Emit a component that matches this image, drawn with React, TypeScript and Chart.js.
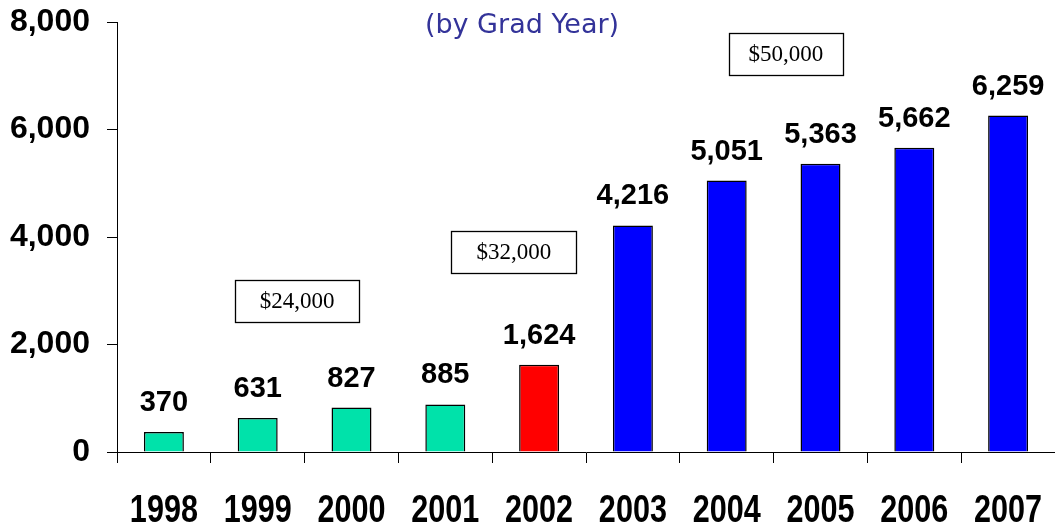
import React, { useEffect, useRef } from "react";
import { Chart, registerables } from "chart.js";

Chart.register(...registerables);

const categories = ["1998", "1999", "2000", "2001", "2002", "2003", "2004", "2005", "2006", "2007"];
const recipients = [370, 631, 827, 885, 1624, 4216, 5051, 5363, 5662, 6259];
const yTickValues = [0, 2000, 4000, 6000, 8000];
const subtitleText = "(by Grad Year)";
const annotationLabels = ["$24,000", "$32,000", "$50,000"];
const annotationCategory = [1.42, 3.73, 6.63];
const annotationValue = [2810, 3725, 7405];

const TEAL = "#00E2AA";
const RED = "#FF0000";
const BLUE = "#0000FF";
const barColors = [TEAL, TEAL, TEAL, TEAL, RED, BLUE, BLUE, BLUE, BLUE, BLUE];
const annotationBoxWidths = [124, 125, 114];

const SANS = "'Liberation Sans', Arial, sans-serif";

const overlayPlugin = {
  id: "overlay",
  afterDatasetsDraw(chart: any) {
    const ctx = chart.ctx;
    const meta = chart.getDatasetMeta(0);
    const xs = chart.scales.x;
    const ys = chart.scales.y;
    ctx.save();
    // value labels
    ctx.fillStyle = "#000";
    ctx.font = `bold 29px ${SANS}`;
    ctx.textAlign = "center";
    ctx.textBaseline = "alphabetic";
    meta.data.forEach((bar: any, i: number) => {
      const v = recipients[i];
      ctx.fillText(v.toLocaleString("en-US"), bar.x, bar.y - 21);
    });
    // category labels (condensed)
    ctx.font = `bold 38px ${SANS}`;
    categories.forEach((c, i) => {
      const x = xs.getPixelForTick(i);
      ctx.save();
      ctx.translate(x, xs.bottom - 7);
      ctx.scale(0.805, 1);
      ctx.fillText(c, 0, 0);
      ctx.restore();
    });
    // annotation boxes
    ctx.font = `23px 'Liberation Serif', 'Times New Roman', serif`;
    ctx.textBaseline = "middle";
    annotationLabels.forEach((label, i) => {
      const cx = xs.getPixelForValue(annotationCategory[i]);
      const cy = ys.getPixelForValue(annotationValue[i]);
      const w = annotationBoxWidths[i];
      const h = 42;
      ctx.fillStyle = "#fff";
      ctx.fillRect(cx - w / 2, cy - h / 2, w, h);
      ctx.strokeStyle = "#000";
      ctx.lineWidth = 1.3;
      ctx.strokeRect(Math.round(cx - w / 2) + 0.5, Math.round(cy - h / 2) + 0.5, w, h);
      ctx.fillStyle = "#000";
      ctx.fillText(label, cx, cy + 1);
    });
    // subtitle
    ctx.fillStyle = "#333399";
    ctx.font = `27px 'DejaVu Sans', Verdana, sans-serif`;
    ctx.textBaseline = "alphabetic";
    ctx.fillText(subtitleText, 522, 33);
    ctx.restore();
  },
};

export default function App() {
  const canvasRef = useRef<HTMLCanvasElement | null>(null);

  useEffect(() => {
    document.body.style.margin = "0";
    const canvas = canvasRef.current;
    if (!canvas) return;
    const chart = new Chart(canvas, {
      type: "bar",
      data: {
        labels: categories,
        datasets: [
          {
            data: recipients,
            backgroundColor: barColors,
            borderColor: "#000",
            borderWidth: 1.5,
            barPercentage: 0.426,
            categoryPercentage: 1,
          },
        ],
      },
      options: {
        responsive: false,
        animation: false,
        devicePixelRatio: 1,
        layout: { padding: { top: 22, right: 0, left: 0, bottom: 0 } },
        plugins: {
          legend: { display: false },
          tooltip: { enabled: false },
          title: { display: false },
        },
        scales: {
          x: {
            offset: true,
            grid: {
              display: true,
              offset: true,
              drawOnChartArea: false,
              drawTicks: true,
              tickLength: 11,
              color: "#000",
              lineWidth: 1,
            },
            border: { display: true, color: "#000", width: 1 },
            ticks: {
              display: false,
              autoSkip: false,
              maxRotation: 0,
            },
            afterFit(scale: any) {
              scale.height = 77;
              scale.paddingLeft = 0;
              scale.paddingRight = 0;
            },
          },
          y: {
            min: 0,
            max: 8000,
            afterBuildTicks(scale: any) {
              scale.ticks = yTickValues.map((v) => ({ value: v }));
            },
            grid: {
              display: true,
              drawOnChartArea: false,
              drawTicks: true,
              tickLength: 10,
              color: "#000",
              lineWidth: 1,
            },
            border: { display: true, color: "#000", width: 1 },
            ticks: {
              color: "#000",
              font: { family: SANS, size: 32, weight: "bold" },
              padding: 17,
              callback: (v: any) => Number(v).toLocaleString("en-US"),
            },
            afterFit(scale: any) {
              scale.width = 117;
              scale.paddingTop = 0;
              scale.paddingBottom = 0;
            },
          },
        },
      },
      plugins: [overlayPlugin],
    });
    return () => chart.destroy();
  }, []);

  return (
    <div style={{ position: "absolute", left: 0, top: 0, width: 1055, height: 529 }}>
      <canvas ref={canvasRef} width={1055} height={529} style={{ width: 1055, height: 529 }} />
    </div>
  );
}
